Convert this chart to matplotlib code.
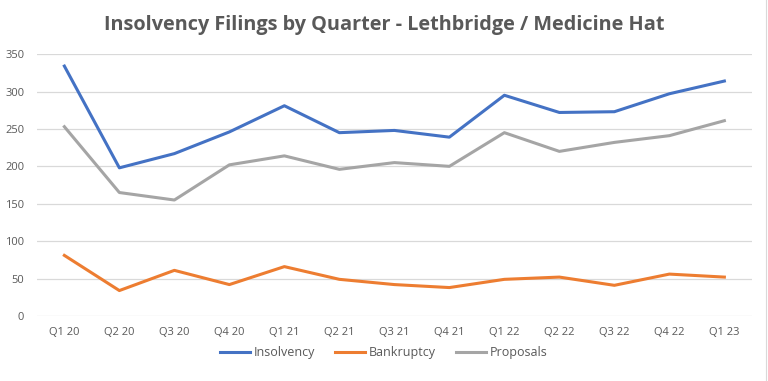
import matplotlib
matplotlib.use("Agg")
import matplotlib.pyplot as plt
from matplotlib.lines import Line2D

quarters = ["Q1 20", "Q2 20", "Q3 20", "Q4 20", "Q1 21", "Q2 21", "Q3 21",
            "Q4 21", "Q1 22", "Q2 22", "Q3 22", "Q4 22", "Q1 23"]
insolvency = [334, 198, 217, 246, 281, 245, 248, 239, 295, 272, 273, 297, 314]
bankruptcy = [81, 34, 61, 42, 66, 49, 42, 38, 49, 52, 41, 56, 52]
proposals = [253, 165, 155, 202, 214, 196, 205, 200, 245, 220, 232, 241, 261]

plt.rcParams['font.family'] = ['Open Sans', 'DejaVu Sans']
txt = '#595959'

fig = plt.figure(figsize=(7.68, 3.81), dpi=100)
ax = fig.add_axes([0.048, 0.1706, 0.931, 0.6874])

x = range(len(quarters))
ax.plot(x, insolvency, color='#4472C4', lw=2.2, label='Insolvency')
ax.plot(x, bankruptcy, color='#ED7D31', lw=2.2, label='Bankruptcy')
ax.plot(x, proposals, color='#A5A5A5', lw=2.2, label='Proposals')

ax.set_xlim(-0.5, len(quarters) - 0.5)
ax.set_ylim(0, 350)
ax.set_yticks(range(0, 351, 50))
ax.set_xticks(list(x))
ax.set_xticklabels(quarters)
ax.grid(axis='y', color='#D9D9D9', lw=0.9)
ax.set_axisbelow(True)
for s in ax.spines.values():
    s.set_visible(False)
ax.tick_params(length=0, labelsize=8, colors=txt, pad=8)
ax.tick_params(axis='y', pad=9)

fig.text(0.5, 0.935, 'Insolvency Filings by Quarter - Lethbridge / Medicine Hat',
         ha='center', va='center', fontsize=14.3, fontweight='bold', color=txt)

fig.legend(loc='center', bbox_to_anchor=(0.5, 0.075), ncol=3, frameon=False,
           fontsize=9, labelcolor=txt, handlelength=2.4, handletextpad=0.3,
           columnspacing=1.6)

fig.add_artist(Line2D([0.997, 0.997], [0, 1], color='#D9D9D9', lw=0.8))

fig.savefig('out.png', dpi=100)
